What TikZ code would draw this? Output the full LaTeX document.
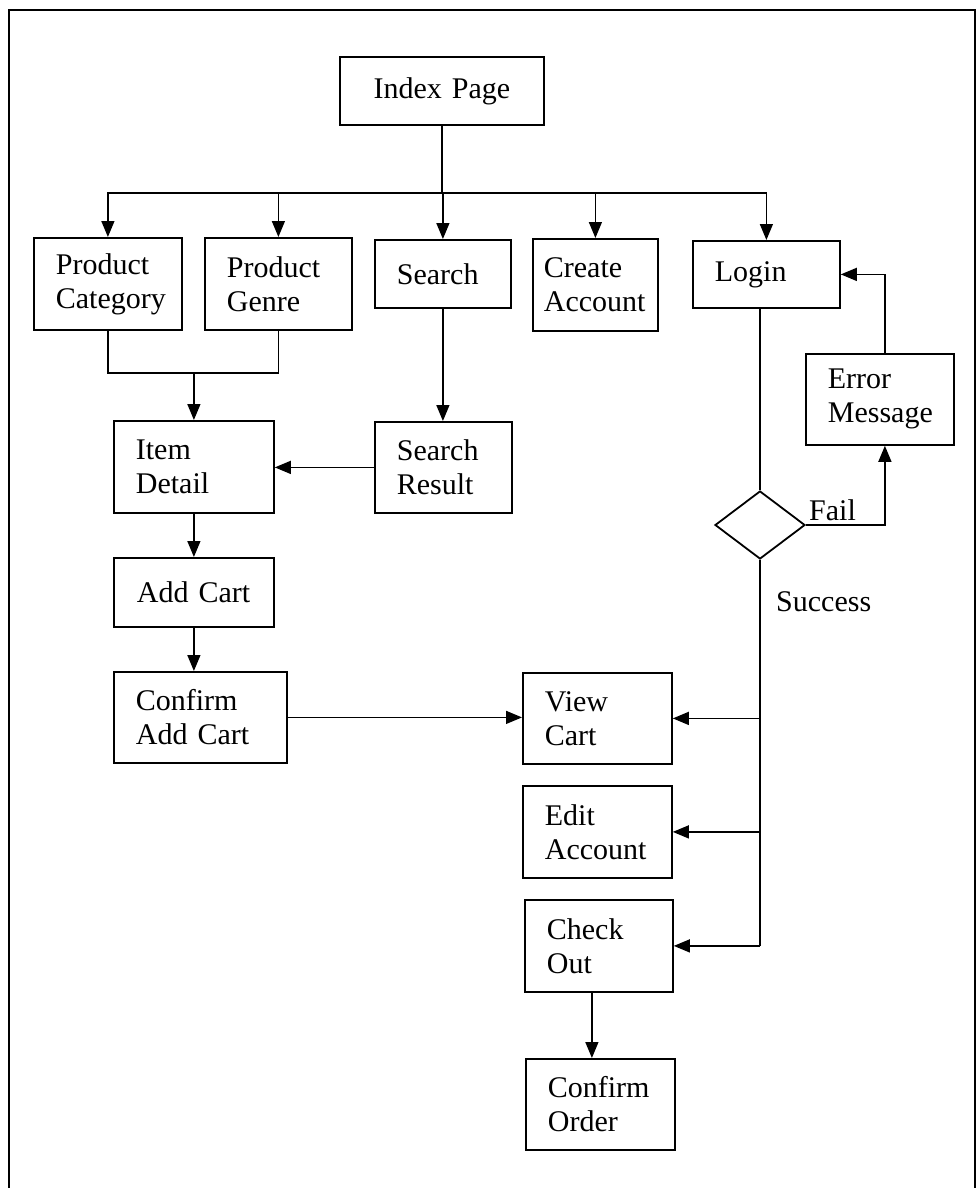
\documentclass[tikz,border=0pt]{standalone}
\usepackage{fontspec}
\setmainfont{Liberation Serif}
\usetikzlibrary{arrows.meta,shapes.geometric}
\begin{document}
\begin{tikzpicture}[x=1pt,y=1pt,
  box/.style={draw, line width=1.8pt, anchor=north west, inner xsep=22pt,
    inner ysep=0pt, align=left, font=\fontsize{30}{34}\selectfont},
  link/.style={line width=1.4pt},
  arr/.style={link, -{Triangle[length=16pt,width=13pt]}},
  lbl/.style={font=\fontsize{30}{34}\selectfont, inner sep=0pt}]
\useasboundingbox (0,0) rectangle (979,-1188);
\fill[white] (0,0) rectangle (979,-1188);
% outer frame (open at the bottom)
\draw[line width=1.1pt] (9,-1188) -- (9,-10) -- (975,-10) -- (975,-1188);

% pages
\node[box, minimum width=204pt, minimum height=68pt, text width=160pt, align=center] (idx) at (339,-56) {Index Page};
\node[box, minimum width=148pt, minimum height=92pt, text width=104pt] (pc) at (33,-237) {Product\\Category};
\node[box, minimum width=147pt, minimum height=92pt, text width=103pt] (pg) at (204,-237) {Product\\Genre};
\node[box, minimum width=136pt, minimum height=68pt, text width=92pt] (srch) at (374,-239) {Search};
\node[box, minimum width=125pt, minimum height=92pt, text width=103pt, inner xsep=11pt] (ca) at (532,-238) {Create\\Account};
\node[box, minimum width=147pt, minimum height=67pt, text width=103pt] (login) at (692,-240) {Login};
\node[box, minimum width=148pt, minimum height=91pt, text width=104pt] (err) at (805,-353) {Error\\Message};
\node[box, minimum width=160pt, minimum height=92pt, text width=116pt] (item) at (113,-420) {Item\\Detail};
\node[box, minimum width=137pt, minimum height=91pt, text width=93pt] (sres) at (374,-421) {Search\\Result};
\node[box, minimum width=160pt, minimum height=69pt, text width=114pt, inner xsep=23pt] (add) at (113,-557) {Add Cart};
\node[box, minimum width=173pt, minimum height=91pt, text width=129pt] (cac) at (113,-671) {Confirm\\Add Cart};
\node[box, minimum width=149pt, minimum height=91pt, text width=105pt] (view) at (522,-672) {View\\Cart};
\node[box, minimum width=149pt, minimum height=92pt, text width=105pt] (edit) at (522,-785) {Edit\\Account};
\node[box, minimum width=148pt, minimum height=92pt, text width=104pt] (check) at (524,-899) {Check\\Out};
\node[box, minimum width=149pt, minimum height=91pt, text width=105pt] (conf) at (525,-1058) {Confirm\\Order};

% login decision
\node[draw, diamond, line width=1.8pt, minimum width=90pt, minimum height=68pt, inner sep=0pt] (dia) at (760,-525) {};
\node[lbl, anchor=base west] (fail) at (809,-520) {Fail};
\node[lbl, anchor=base west] (succ) at (776,-611) {Success};

% index page fan-out
\coordinate (bus) at (idx.south |- 0,-193);
\draw[link] (idx.south) -- (bus);
\draw[arr] (bus) -| (pc.north);
\draw[arr] (bus) -| (pg.north);
\draw[arr] (bus) -| (srch.north);
\draw[arr] (bus) -| (ca.north);
\draw[arr] (bus) -| (login.north);

% browsing paths
\coordinate (join) at (item.north |- 0,-373);
\draw[link] (pc.south) |- (join) -| (pg.south);
\draw[arr] (join) -- (item.north);
\draw[arr] (srch.south) -- (srch.south |- sres.north);
\draw[arr] (sres.west) -- (sres.west -| item.east);
\draw[arr] (item.south) -- (add.north);
\draw[arr] (add.south) -- (add.south |- cac.north);
\draw[arr] (cac.east) -- (cac.east -| view.west);

% login outcome
\draw[link] (dia.north |- login.south) -- (dia.north);
\draw[arr] (dia.east) -| ([xshift=5pt]err.south);
\draw[arr] ([xshift=5pt]err.north) |- (login.east);
\draw[link] (dia.south) -- (dia.south |- check.east);
\draw[arr] (dia.south |- view.east) -- (view.east);
\draw[arr] (dia.south |- edit.east) -- (edit.east);
\draw[arr] (dia.south |- check.east) -- (check.east);
\draw[arr] ([xshift=-7pt]check.south) -- ([xshift=-7pt]check.south |- conf.north);
\end{tikzpicture}
\end{document}
